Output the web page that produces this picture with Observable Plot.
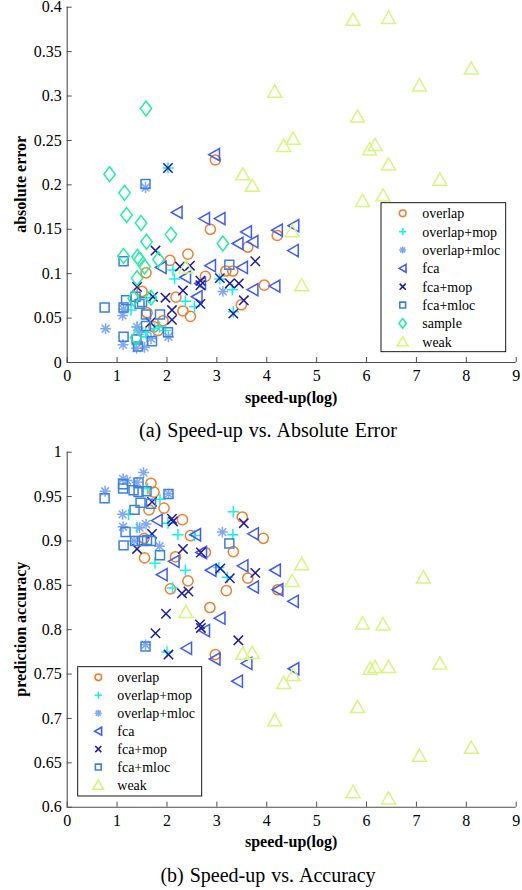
<!DOCTYPE html>
<html><head><meta charset="utf-8">
<script src="https://cdn.jsdelivr.net/npm/d3@7"></script>
<script src="https://cdn.jsdelivr.net/npm/@observablehq/plot@0.6"></script>
<style>
body{margin:0;background:#fff;}
#wrap{position:relative;width:522px;height:890px;font-family:"Liberation Serif","Times New Roman",serif;}
#wrap svg{position:absolute;left:0;overflow:visible;}
#wrap svg text{font-family:"Liberation Serif","Times New Roman",serif !important;}
.cap{position:absolute;left:0;width:536px;text-align:center;font-size:20px;color:#000;line-height:20px;white-space:nowrap;word-spacing:1px;}
</style></head><body><div id="wrap"></div>
<script>
// ---------- data ----------
const xTicks = [0,1,2,3,4,5,6,7,8,9];
const errTicks = [0,0.05,0.1,0.15,0.2,0.25,0.3,0.35,0.4];
const accTicks = [0.6,0.65,0.7,0.75,0.8,0.85,0.9,0.95,1];
const seriesNames = ["overlap","overlap+mop","overlap+mloc","fca","fca+mop","fca+mloc","sample","weak"];

// (a) speed-up vs absolute error  [speed-up, error]
const errOverlap = [[2.97,0.228],[2.87,0.150],[4.21,0.143],[3.62,0.130],[2.42,0.122],[2.06,0.115],[1.58,0.101],[2.77,0.097],[3.18,0.103],[3.32,0.103],[3.95,0.087],[1.50,0.080],[2.18,0.0735],[2.32,0.058],[2.47,0.052],[3.49,0.065],[1.92,0.047],[1.60,0.056],[1.74,0.040],[1.82,0.036]];
const errOverlapMop = [[2.02,0.219],[2.12,0.104],[2.15,0.094],[2.37,0.069],[2.55,0.063],[1.28,0.059],[3.06,0.094],[3.31,0.082],[3.33,0.057],[1.60,0.029],[1.85,0.040],[1.97,0.036],[1.67,0.073],[1.40,0.040],[1.57,0.034],[1.75,0.038]];
const errOverlapMloc = [[0.77,0.038],[1.11,0.053],[1.12,0.020],[1.40,0.040],[1.39,0.016],[1.55,0.017],[2.03,0.029],[3.12,0.080],[1.57,0.197],[1.13,0.060],[1.68,0.027],[1.45,0.035]];
const errFca = [[2.95,0.234],[2.75,0.162],[3.06,0.162],[2.20,0.169],[3.59,0.147],[3.72,0.136],[3.42,0.134],[4.21,0.149],[4.54,0.154],[4.53,0.126],[2.87,0.109],[3.51,0.107],[3.72,0.082],[4.16,0.086],[2.37,0.096],[2.67,0.089],[2.60,0.074],[1.88,0.107]];
const errFcaMop = [[2.02,0.219],[1.77,0.126],[1.40,0.085],[1.72,0.074],[1.97,0.073],[2.10,0.059],[2.10,0.048],[1.67,0.045],[2.32,0.081],[2.26,0.108],[2.46,0.109],[2.67,0.092],[2.67,0.087],[2.67,0.066],[3.06,0.095],[3.26,0.089],[3.44,0.089],[3.77,0.114],[3.54,0.070],[3.33,0.055]];
const errFcaMloc = [[1.57,0.201],[1.13,0.114],[0.75,0.062],[1.13,0.062],[1.18,0.070],[1.37,0.074],[1.50,0.068],[1.58,0.054],[1.86,0.054],[1.58,0.041],[2.02,0.034],[1.70,0.024],[1.13,0.029],[1.39,0.026],[1.42,0.018],[3.25,0.110],[1.45,0.066]];
const errSample = [[0.85,0.212],[1.15,0.191],[1.19,0.166],[1.48,0.157],[1.59,0.136],[2.08,0.144],[1.13,0.120],[1.41,0.119],[1.45,0.116],[1.55,0.108],[1.83,0.116],[1.40,0.095],[1.33,0.072],[1.68,0.073],[1.38,0.028],[1.58,0.286],[3.12,0.134]];
const errWeak = [[5.73,0.386],[6.44,0.388],[8.10,0.331],[7.06,0.312],[4.16,0.305],[5.82,0.277],[4.53,0.252],[4.34,0.244],[6.17,0.245],[6.06,0.240],[6.44,0.223],[7.47,0.206],[5.92,0.182],[6.33,0.188],[3.52,0.212],[3.71,0.199],[4.51,0.148],[4.70,0.087],[2.38,0.107]];

// (b) speed-up vs prediction accuracy  [speed-up, accuracy]
const accOverlap = [[1.68,0.965],[1.74,0.955],[1.64,0.935],[1.94,0.937],[2.31,0.924],[2.47,0.906],[2.77,0.887],[2.17,0.882],[1.55,0.881],[2.42,0.855],[2.07,0.846],[3.19,0.844],[3.62,0.858],[2.86,0.825],[3.51,0.927],[3.93,0.903],[1.54,0.903],[3.33,0.888],[4.22,0.845],[2.97,0.772]];
const accOverlapMop = [[3.33,0.933],[3.32,0.907],[1.86,0.947],[2.02,0.920],[2.22,0.907],[1.76,0.875],[2.37,0.867],[2.11,0.847],[3.04,0.870],[3.21,0.859],[2.55,0.906],[1.61,0.959],[1.23,0.930],[1.40,0.915],[2.00,0.775]];
const accOverlapMloc = [[0.76,0.956],[1.12,0.970],[1.53,0.977],[1.40,0.966],[1.11,0.930],[1.12,0.916],[1.45,0.915],[1.58,0.919],[1.85,0.894],[3.11,0.910],[2.03,0.953],[1.34,0.900],[1.57,0.783],[1.20,0.968]];
const accFca = [[1.80,0.923],[1.90,0.862],[2.14,0.877],[2.57,0.907],[2.69,0.887],[3.73,0.908],[2.88,0.867],[3.52,0.872],[3.73,0.848],[4.17,0.867],[4.22,0.845],[4.53,0.832],[3.06,0.813],[2.75,0.799],[2.39,0.779],[2.96,0.767],[3.60,0.762],[3.41,0.742],[4.54,0.756]];
const accFcaMop = [[1.70,0.944],[2.10,0.925],[2.12,0.922],[1.40,0.891],[1.70,0.908],[2.32,0.891],[2.68,0.887],[2.30,0.841],[2.43,0.843],[1.98,0.818],[2.66,0.806],[2.68,0.802],[3.54,0.920],[3.07,0.869],[3.26,0.858],[3.77,0.864],[1.77,0.796],[3.43,0.788],[2.03,0.772]];
const accFcaMloc = [[0.75,0.948],[1.12,0.964],[1.12,0.959],[1.43,0.966],[1.33,0.957],[1.43,0.955],[1.59,0.956],[1.47,0.943],[1.68,0.942],[2.03,0.953],[1.35,0.935],[1.17,0.910],[1.13,0.895],[1.36,0.900],[1.50,0.900],[1.60,0.901],[1.68,0.900],[1.86,0.884],[1.57,0.781],[3.25,0.897]];
const accWeak = [[4.70,0.874],[4.51,0.855],[7.14,0.859],[5.92,0.807],[6.33,0.806],[6.07,0.756],[6.17,0.758],[6.44,0.758],[7.47,0.762],[4.53,0.749],[4.34,0.740],[5.82,0.713],[4.16,0.698],[8.10,0.667],[7.06,0.658],[5.73,0.617],[6.44,0.610],[2.38,0.820],[3.52,0.773],[3.71,0.774]];

// ---------- styles ----------
const colors = {"overlap":"#ef7f2f","overlap+mop":"#16f0ee","overlap+mloc":"#80a8f4","fca":"#3e5cf2","fca+mop":"#1c1c9e","fca+mloc":"#3c82dc","sample":"#26eea2","weak":"#d6f680"};
const R = s => Math.sqrt(s/Math.PI)/5; // scale factor relative to r=5
const symbols = {
  "overlap": {draw(c,s){const r=Math.sqrt(s/Math.PI); c.moveTo(r,0); c.arc(0,0,r,0,2*Math.PI);}},
  "overlap+mop": {draw(c,s){const k=R(s)*5.5; c.moveTo(-k,0);c.lineTo(k,0);c.moveTo(0,-k);c.lineTo(0,k);}},
  "overlap+mloc": {draw(c,s){const k=R(s)*5.3, d=k*0.72; c.moveTo(-k,0);c.lineTo(k,0);c.moveTo(0,-k);c.lineTo(0,k);c.moveTo(-d,-d);c.lineTo(d,d);c.moveTo(-d,d);c.lineTo(d,-d);}},
  "fca": {draw(c,s){const k=R(s); c.moveTo(-5.5*k,0);c.lineTo(5*k,-6*k);c.lineTo(5*k,6*k);c.closePath();}},
  "fca+mop": {draw(c,s){const k=R(s)*4.6; c.moveTo(-k,-k);c.lineTo(k,k);c.moveTo(-k,k);c.lineTo(k,-k);}},
  "fca+mloc": {draw(c,s){const k=R(s)*4.4; c.moveTo(-k,-k);c.lineTo(k,-k);c.lineTo(k,k);c.lineTo(-k,k);c.closePath();}},
  "sample": {draw(c,s){const k=R(s); c.moveTo(0,-7.3*k);c.lineTo(5.6*k,0);c.lineTo(0,7.3*k);c.lineTo(-5.6*k,0);c.closePath();}},
  "weak": {draw(c,s){const k=R(s); c.moveTo(0,-6.5*k);c.lineTo(6.8*k,5.5*k);c.lineTo(-6.8*k,5.5*k);c.closePath();}}
};
const axisColor = "#4d4d4d";
const fmt = d => String(+d.toFixed(2));

function makeChart(opts){
  const {series, yDomain, yTicks, yLabel, legend, height, marginTop, marginBottom} = opts;
  const marks = [
    Plot.ruleY([yDomain[0]], {stroke: axisColor, strokeWidth: 1.1}),
    Plot.ruleX([0], {stroke: axisColor, strokeWidth: 1.1}),
    Plot.axisX({ticks: xTicks, tickSize: -5, tickPadding: 12, tickFormat: fmt, stroke: axisColor, fill: "#000", label: null}),
    Plot.axisY({ticks: yTicks, tickSize: -5, tickPadding: 10.5, tickFormat: fmt, stroke: axisColor, fill: "#000", label: null}),
    ...series.map(([name, data]) => Plot.dot(data, {x: d => d[0], y: d => d[1], symbol: symbols[name], r: 5.1, stroke: colors[name], fill: "none", strokeWidth: 1.5}))
  ];
  const svg = Plot.plot({
    width: 522, height, marginTop, marginBottom, marginLeft: 66.7, marginRight: 6.3,
    x: {domain: [0, 9]}, y: {domain: yDomain},
    style: {fontFamily: '"Liberation Serif", serif', fontSize: "16px", color: "#000", background: "transparent", overflow: "visible"},
    marks
  });
  const s = d3.select(svg);
  const bottom = height - marginBottom;
  s.append("text").attr("x", (66.7 + 515.7)/2).attr("y", bottom + 40.5).attr("text-anchor","middle")
    .attr("font-weight","bold").attr("font-size","16px").attr("fill","#000").text("speed-up(log)");
  s.append("text").attr("transform", `translate(25.5,${(marginTop + bottom)/2}) rotate(-90)`).attr("text-anchor","middle")
    .attr("font-weight","bold").attr("font-size","16px").attr("fill","#000").text(yLabel);
  // legend
  const g = s.append("g").attr("text-anchor","start");
  g.append("rect").attr("x", legend.x0).attr("y", legend.y0).attr("width", legend.x1 - legend.x0).attr("height", legend.y1 - legend.y0)
    .attr("fill","#fff").attr("stroke","#000").attr("stroke-width",0.9);
  legend.names.forEach((name, i) => {
    const y = legend.row0 + i*legend.step;
    const size = Math.PI * (name === "weak" ? 3.9 : 3.3) ** 2;
    g.append("path").attr("d", d3.symbol(symbols[name], size)()).attr("transform", `translate(${legend.sx},${y})`)
      .attr("fill","none").attr("stroke", colors[name]).attr("stroke-width", 1.6);
    g.append("text").attr("x", legend.tx).attr("y", y + 5).attr("font-size","14px").attr("text-anchor","start")
      .attr("fill","#000").text(name);
  });
  return svg;
}

const wrap = document.getElementById("wrap");
const svgA = makeChart({
  series: [["overlap",errOverlap],["overlap+mop",errOverlapMop],["overlap+mloc",errOverlapMloc],["fca",errFca],["fca+mop",errFcaMop],["fca+mloc",errFcaMloc],["sample",errSample],["weak",errWeak]],
  yDomain: [0, 0.4], yTicks: errTicks, yLabel: "absolute error",
  height: 410, marginTop: 6.7, marginBottom: 48,
  legend: {x0: 381, x1: 505.7, y0: 202.7, y1: 351.7, row0: 213.3, step: 18.35, sx: 402.7, tx: 422.3, names: seriesNames}
});
svgA.style.top = "0px";
wrap.appendChild(svgA);
const capA = document.createElement("div"); capA.className = "cap"; capA.style.top = "420px";
capA.textContent = "(a) Speed-up vs. Absolute Error"; wrap.appendChild(capA);

const svgB = makeChart({
  series: [["overlap",accOverlap],["overlap+mop",accOverlapMop],["overlap+mloc",accOverlapMloc],["fca",accFca],["fca+mop",accFcaMop],["fca+mloc",accFcaMloc],["weak",accWeak]],
  yDomain: [0.6, 1], yTicks: accTicks, yLabel: "prediction accuracy",
  height: 411.7, marginTop: 6.7, marginBottom: 50,
  legend: {x0: 77.7, x1: 201.7, y0: 221.7, y1: 351, row0: 232.3, step: 17.95, sx: 98.3, tx: 117.3, names: seriesNames.filter(n => n !== "sample")}
});
svgB.style.top = "445px";
wrap.appendChild(svgB);
const capB = document.createElement("div"); capB.className = "cap"; capB.style.top = "865px";
capB.textContent = "(b) Speed-up vs. Accuracy"; wrap.appendChild(capB);
</script></body></html>
